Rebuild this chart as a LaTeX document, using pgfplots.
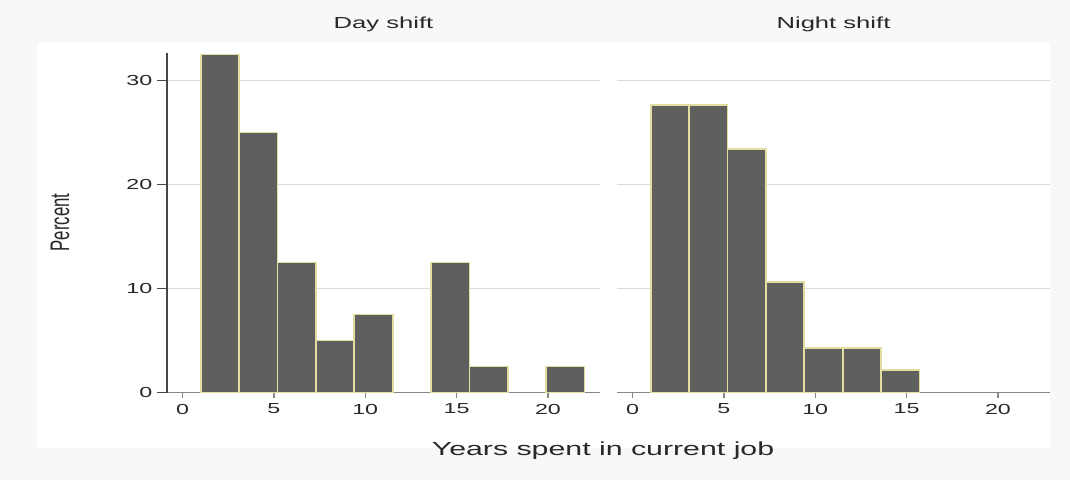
\documentclass[border=0pt]{standalone}
\usepackage{fontspec}
\setmainfont[FakeStretch=1.6]{Liberation Sans}
\newfontfamily\plainfont{Liberation Sans}
\usepackage{pgfplots}
\pgfplotsset{compat=1.18}
\definecolor{barfill}{RGB}{95,95,95}
\definecolor{baredge}{RGB}{226,222,160}
\definecolor{gridc}{RGB}{218,218,218}
\definecolor{txt}{RGB}{40,40,40}
\definecolor{bgc}{RGB}{248,248,248}
\definecolor{xaxc}{RGB}{135,135,135}
\definecolor{yaxc}{RGB}{70,70,70}
\pgfplotsset{
  histbar/.style={ybar interval, fill=barfill, draw=baredge, line width=1.3pt, mark=none},
  panel/.style={
    scale only axis, width=324.75pt, height=255pt,
    anchor=south west,
    xmin=-0.85, xmax=22.85, ymin=0, ymax=32.7,
    axis x line=bottom, axis y line=left,
    axis line style={-},
    x axis line style={draw=xaxc, line width=1.3pt},
    y axis line style={draw=yaxc, line width=1.1pt},
    xtick={0,5,10,15,20}, ytick={0,10,20,30},
    ymajorgrids, grid style={gridc, line width=1.1pt},
    tick align=outside,
    major tick length=7.5pt,
    xtick style={draw=xaxc, line width=1pt, /pgfplots/major tick length=3.75pt},
    ytick style={draw=yaxc, line width=1pt},
    /pgf/number format/assume math mode=true,
    tick label style={font=\fontsize{10.9}{12}\selectfont, text=txt},
    xticklabel style={yshift=2.5pt},
    title style={at={(0.5,1.06)}, anchor=center, font=\fontsize{12}{14}\selectfont, text=txt},
  }
}
\begin{document}
\begin{tikzpicture}
\path[use as bounding box, fill=bgc] (0,0) rectangle (802.5pt,360pt);
\fill[white] (27.75pt,24pt) rectangle (787.5pt,327.75pt);
\begin{axis}[panel, at={(125.25pt,65.625pt)},
  title={Day shift},
  ylabel={\scalebox{1}[1.6]{\plainfont\fontsize{12.6}{14}\selectfont Percent}},
  ylabel style={at={(axis description cs:-0.247,0.5)}, anchor=center, text=txt},
  xlabel={\fontsize{14.2}{16}\selectfont Years spent in current job},
  xlabel style={at={(axis description cs:1.007,-0.172)}, anchor=center, text=txt},
]
\addplot[histbar] coordinates {(1,32.5) (3.1,25) (5.2,12.5) (7.3,5) (9.4,7.5) (11.5,7.5)};
\addplot[histbar] coordinates {(13.6,12.5) (15.7,2.5) (17.8,2.5)};
\addplot[histbar] coordinates {(19.9,2.5) (22,2.5)};
\end{axis}
\begin{axis}[panel, at={(462.75pt,65.625pt)},
  title={Night shift},
  y axis line style={draw=none},
  ytick style={draw=none},
  yticklabels={},
]
\addplot[histbar] coordinates {(1,27.66) (3.1,27.66) (5.2,23.40) (7.3,10.64) (9.4,4.26) (11.5,4.26) (13.6,2.13) (15.7,2.13)};
\end{axis}
\end{tikzpicture}
\end{document}
